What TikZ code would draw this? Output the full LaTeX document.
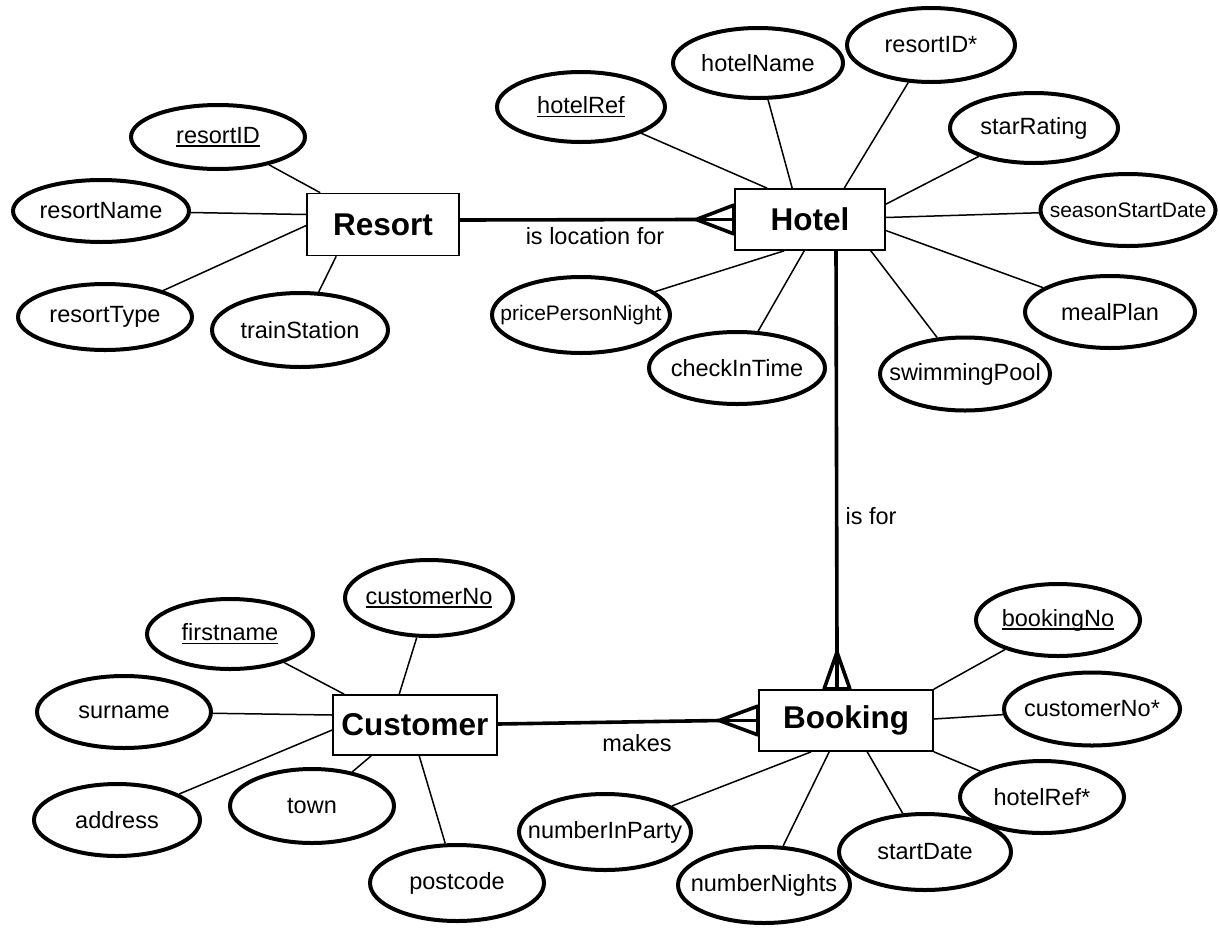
\documentclass[tikz,border=0pt]{standalone}
\usepackage{fontspec}
\setmainfont{Liberation Sans}
\usetikzlibrary{shapes.geometric,calc,backgrounds}

% primary-key attribute: text with a solid underline
\newcommand\keyattr[1]{\setbox0\hbox{#1}\rlap{\rule[-3.6pt]{\wd0}{1.4pt}}\box0}

\tikzset{
  entity/.style 2 args={draw, fill=white, line width=1.6pt, rectangle, inner sep=0pt,
    minimum width=#1, minimum height=#2,
    font=\fontsize{31.5}{36}\selectfont\bfseries},
  attr/.style 2 args={draw, fill=white, ellipse, line width=4pt, inner sep=0pt,
    minimum width=#1, minimum height=#2},
  atext/.style={inner sep=0pt, font=\fontsize{23.5}{27}\selectfont},
  stext/.style={inner sep=0pt, font=\fontsize{21}{25}\selectfont},
  link/.style={line width=1.5pt},
  rel/.style={line width=3.6pt},
  foot/.style={line width=3.6pt, line join=miter},
  rlabel/.style={inner sep=0pt, font=\fontsize{23.5}{27}\selectfont},
}

\begin{document}
\begin{tikzpicture}[x=1pt,y=-1pt]
\useasboundingbox (0,0) rectangle (1220,932);

% ---------- entities ----------
\node[entity={152}{62}] (resort)   at (383,224.5) {Resort};
\node[entity={150}{61}] (hotel)    at (810,219.5) {Hotel};
\node[entity={164}{60}] (customer) at (415,725)   {Customer};
\node[entity={174}{61}] (booking)  at (846,720.5) {Booking};

% ---------- Resort attributes ----------
\node[attr={174}{64}, label={[atext]center:\keyattr{resortID}}] (rID) at (218,137) {};
\node[attr={176}{62}, label={[atext]center:resortName}] (rName) at (101,211) {};
\node[attr={174}{66}, label={[atext]center:resortType}] (rType) at (105,317) {};
\node[attr={176}{74}, label={[atext]center:trainStation}] (rTrain) at (300,330) {};

% ---------- Hotel attributes ----------
\node[attr={168}{70}, label={[atext]center:\keyattr{hotelRef}}] (hRef) at (581,107) {};
\node[attr={170}{70}, label={[atext]center:hotelName}] (hName) at (758,63) {};
\node[attr={168}{74}, label={[atext]center:resortID*}] (hRes) at (931,45) {};
\node[attr={168}{70}, label={[atext]center:starRating}] (hStar) at (1034,128) {};
\node[attr={175}{72}, label={[stext]center:seasonStartDate}] (hSeason) at (1128,210) {};
\node[attr={170}{72}, label={[atext]center:mealPlan}] (hMeal) at (1110,312) {};
\node[attr={170}{73}, label={[atext]center:swimmingPool}] (hPool) at (965,374) {};
\node[attr={176}{72}, label={[atext]center:checkInTime}] (hCheck) at (737,368) {};
\node[attr={178}{76}, label={[stext]center:pricePersonNight}] (hPrice) at (581,315) {};

% ---------- Customer attributes ----------
\node[attr={168}{76}, label={[atext]center:\keyattr{customerNo}}] (cNo) at (429,598) {};
\node[attr={166}{70}, label={[atext]center:\keyattr{firstname}}] (cFirst) at (230,634) {};
\node[attr={174}{72}, label={[atext]center:surname}] (cSur) at (124,712) {};
\node[attr={166}{72}, label={[atext]center:address}] (cAddr) at (117,820) {};
\node[attr={164}{74}, label={[atext]center:town}] (cTown) at (312,806) {};
\node[attr={174}{76}, label={[atext]center:postcode}] (cPost) at (457,883) {};

% ---------- Booking attributes ----------
\node[attr={164}{72}, label={[atext]center:\keyattr{bookingNo}}] (bNo) at (1058,620) {};
\node[attr={176}{73}, label={[atext]center:customerNo*}] (bCust) at (1092,709) {};
\node[attr={164}{72}, label={[atext]center:hotelRef*}] (bHotel) at (1042,797) {};
\node[attr={172}{76}, label={[atext]center:startDate}] (bStart) at (925,852) {};
\node[attr={172}{76}, label={[atext]center:numberNights}] (bNights) at (764,885) {};
\node[attr={172}{76}, label={[atext]center:numberInParty}] (bParty) at (605,832) {};

% ---------- attribute links (behind the shapes) ----------
\begin{scope}[on background layer]
\draw[link] (rID) -- ($(resort.north west)+(14,0)$);
\draw[link] (rName) -- ($(resort.west)+(0,-10)$);
\draw[link] (rType) -- ($(resort.west)+(0,1)$);
\draw[link] (rTrain) -- ($(resort.south west)+(30,0)$);

\draw[link] (hRef) -- ($(hotel.north west)+(33,0)$);
\draw[link] (hName) -- ($(hotel.north west)+(58,0)$);
\draw[link] (hRes) -- ($(hotel.north west)+(110,0)$);
\draw[link] (hStar) -- ($(hotel.north east)+(0,16)$);
\draw[link] (hSeason) -- ($(hotel.east)+(0,-2)$);
\draw[link] (hMeal) -- ($(hotel.east)+(0,11)$);
\draw[link] (hPool) -- ($(hotel.south east)+(-15,0)$);
\draw[link] (hCheck) -- ($(hotel.south west)+(70,0)$);
\draw[link] (hPrice) -- ($(hotel.south west)+(50,0)$);

\draw[link] (cNo) -- ($(customer.north west)+(67,0)$);
\draw[link] (cFirst) -- ($(customer.north west)+(12,0)$);
\draw[link] (cSur) -- ($(customer.west)+(0,-10)$);
\draw[link] (cAddr) -- ($(customer.west)+(0,5)$);
\draw[link] (cTown) -- ($(customer.south west)+(39,0)$);
\draw[link] (cPost) -- ($(customer.south west)+(87,0)$);

\draw[link] (bNo) -- (booking.north east);
\draw[link] (bCust) -- ($(booking.east)+(0,-1.5)$);
\draw[link] (bHotel) -- (booking.south east);
\draw[link] (bStart) -- ($(booking.south west)+(109,0)$);
\draw[link] (bNights) -- ($(booking.south west)+(71,0)$);
\draw[link] (bParty) -- ($(booking.south west)+(53,0)$);
\end{scope}

% ---------- relationships ----------
% Resort (one) -- Hotel (many)
\draw[rel] ($(resort.east)+(0,-4.5)$) -- ($(hotel.west)+(-38,0)$);
\draw[foot] ($(hotel.west)+(0,-14.5)$) -- ($(hotel.west)+(-38,0)$) -- ($(hotel.west)+(0,14.5)$);
\draw[foot] ($(hotel.west)+(-38,0)$) -- (hotel.west);
\draw[foot] ($(hotel.west)+(0,-14.5)$) -- ($(hotel.west)+(0,14.5)$);
\node[rlabel] (lLoc) at (595,236) {is location for};

% Hotel (one) -- Booking (many)
\coordinate (bTop) at ($(booking.north)+(-9,0)$);
\draw[rel] ($(hotel.south)+(26,0)$) -- ($(bTop)+(0,-37)$);
\draw[foot] ($(bTop)+(-13,0)$) -- ($(bTop)+(0,-37)$) -- ($(bTop)+(13,0)$);
\draw[foot] ($(bTop)+(0,-37)$) -- (bTop);
\draw[foot] ($(bTop)+(-13,0)$) -- ($(bTop)+(13,0)$);
\node[rlabel] (lFor) at (871,516) {is for};

% Customer (one) -- Booking (many)
\draw[rel] ($(customer.east)+(0,-1)$) -- ($(booking.west)+(-39,0)$);
\draw[foot] ($(booking.west)+(0,-14.5)$) -- ($(booking.west)+(-39,0)$) -- ($(booking.west)+(0,14.5)$);
\draw[foot] ($(booking.west)+(-39,0)$) -- (booking.west);
\draw[foot] ($(booking.west)+(0,-14.5)$) -- ($(booking.west)+(0,14.5)$);
\node[rlabel] (lMakes) at (637,743) {makes};
\end{tikzpicture}
\end{document}
